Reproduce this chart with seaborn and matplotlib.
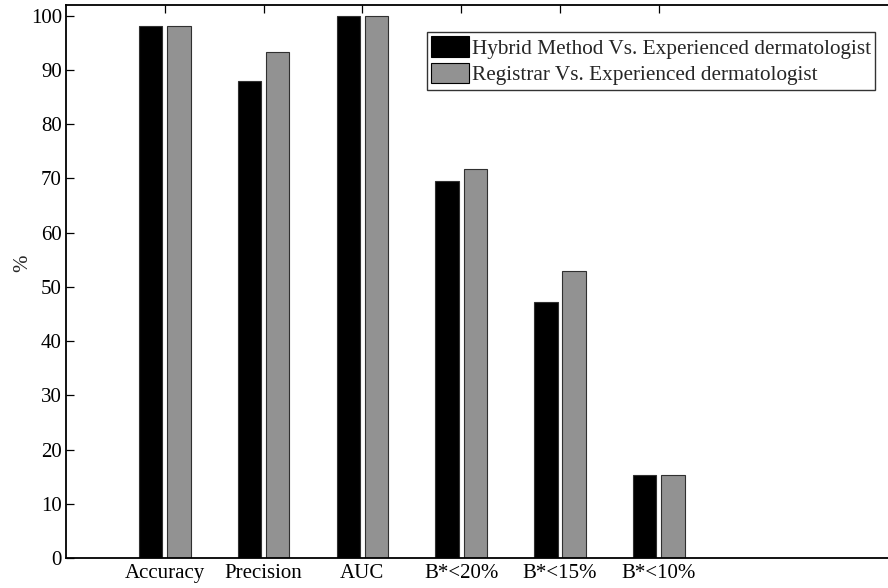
import matplotlib
matplotlib.use("Agg")
import matplotlib.pyplot as plt
import pandas as pd
import seaborn as sns

categories = ["Accuracy", "Precision", "AUC", "B*<20%", "B*<15%", "B*<10%"]
series_names = [
    "Hybrid Method Vs. Experienced dermatologist",
    "Registrar Vs. Experienced dermatologist",
]
hybrid_values = [98.2, 88.0, 99.9, 69.6, 47.2, 15.3]
registrar_values = [98.2, 93.3, 99.9, 71.8, 53.0, 15.3]
y_ticks = [0, 10, 20, 30, 40, 50, 60, 70, 80, 90, 100]

sns.set_theme(style="white")
plt.rcParams["font.family"] = ["Liberation Serif", "DejaVu Serif"]

df = pd.DataFrame(
    {
        "metric": categories * 2,
        "value": hybrid_values + registrar_values,
        "series": [series_names[0]] * len(categories) + [series_names[1]] * len(categories),
    }
)

fig = plt.figure(figsize=(8.88, 5.88), dpi=100)
ax = fig.add_axes([0.0743, 0.051, 0.9257, 0.9405])

sns.barplot(
    data=df,
    x="metric",
    y="value",
    hue="series",
    order=categories,
    hue_order=series_names,
    palette=["#000000", "#929292"],
    width=0.572,
    gap=0.175,
    edgecolor="#303030",
    linewidth=0.8,
    saturation=1,
    errorbar=None,
    ax=ax,
)

ax.set_xlim(-1, 7.32)
ax.set_ylim(0, 102)
ax.set_yticks(y_ticks)
ax.set_xlabel("")
ax.set_ylabel("%", fontsize=15)
ax.yaxis.set_label_coords(-0.041, 0.533)

ax.tick_params(
    axis="both",
    direction="in",
    length=6,
    width=0.9,
    labelsize=15,
    color="black",
    labelcolor="black",
)
ax.tick_params(axis="x", top=True, pad=4)
ax.tick_params(axis="y", left=True, pad=3)

for side in ["left", "bottom", "top"]:
    ax.spines[side].set_visible(True)
    ax.spines[side].set_color("black")
    ax.spines[side].set_linewidth(1.3)
ax.spines["right"].set_visible(False)

leg = ax.legend(
    loc="upper right",
    bbox_to_anchor=(875 / 888, 1 - 32 / 588),
    bbox_transform=fig.transFigure,
    fontsize=15.3,
    frameon=True,
    fancybox=False,
    edgecolor="black",
    handlelength=1.8,
    handleheight=1.1,
    handletextpad=0.12,
    borderpad=0.2,
    borderaxespad=0,
    labelspacing=0.2,
)
leg.get_frame().set_linewidth(1.0)
for h in leg.legend_handles:
    h.set_edgecolor("black")

fig.savefig("out.png", dpi=100)
